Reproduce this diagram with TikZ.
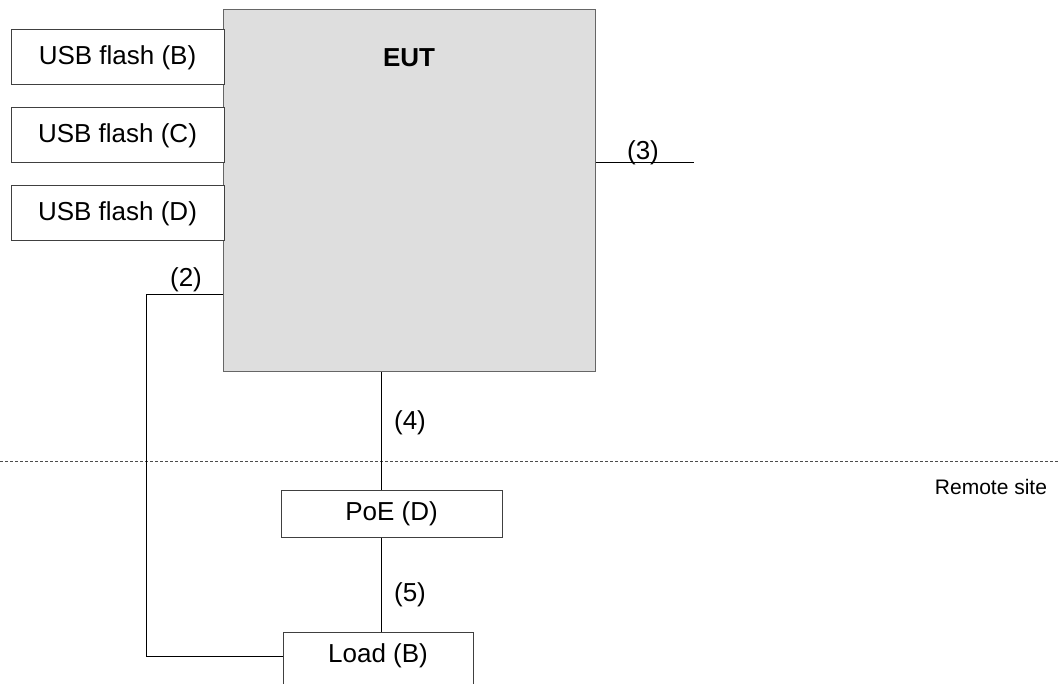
\documentclass[tikz,border=0pt]{standalone}
\usepackage{fontspec}
\setmainfont{Liberation Sans}
\begin{document}
\begin{tikzpicture}[x=1pt,y=-1pt,
  every node/.style={font=\fontsize{26}{31}\selectfont, inner sep=0pt},
  box/.style={draw=black!75, line width=1pt, fill=white, rectangle},
  eutbox/.style={draw=black!60, line width=1pt, fill=black!13, rectangle},
  wire/.style={draw=black, line width=1pt},
  lbl/.style={font=\fontsize{26}{31}\selectfont},
  small/.style={font=\fontsize{21}{25}\selectfont}]
\useasboundingbox (0,0) rectangle (1058,684);
% EUT
\node[eutbox, minimum width=372pt, minimum height=362pt] (eut) at (409,191) {};
\node[font=\fontsize{26}{31}\selectfont\bfseries] (eutlbl) at (409,58) {EUT};
% USB boxes
\node[box, minimum width=213pt, minimum height=55pt] (usbb) at (117.5,57.5) {USB flash (B)};
\node[box, minimum width=213pt, minimum height=55pt] (usbc) at (117.5,135.5) {USB flash (C)};
\node[box, minimum width=213pt, minimum height=55pt] (usbd) at (117.5,213.5) {USB flash (D)};
% Dashed boundary
\coordinate (dl) at (0,461);
\coordinate (dr) at (1058,461);
\draw[black!70, line width=0.8pt, dash pattern=on 3pt off 2pt] (dl) -- (dr);
\node[small] (remote) at (991,487) {Remote site};
% PoE and Load
\node[box, minimum width=221pt, minimum height=47pt] (poe) at (391.5,513.5) {PoE (D)};
\node[box, minimum width=190pt, minimum height=70pt, anchor=north] (load) at (378,632) {};
\node (loadtxt) at (378,656) {Load (B)};
% connector coordinates
\coordinate (c2) at (146,295);
\coordinate (c3) at (694,163);
\coordinate (c4) at (381,424);
% (2)
\draw[wire] (eut.west |- c2) -- (c2) |- (load.west |- loadtxt);
\node[lbl] (l2) at (186,280) {(2)};
% (3)
\draw[wire] (eut.east |- c3) -- (c3);
\node[lbl] (l3) at (643,153) {(3)};
% (4)
\draw[wire] (eut.south -| c4) -- (poe.north -| c4);
\node[lbl] (l4) at (410,423) {(4)};
% (5)
\draw[wire] (poe.south -| c4) -- (load.north -| c4);
\node[lbl] (l5) at (410,595) {(5)};
\end{tikzpicture}
\end{document}
